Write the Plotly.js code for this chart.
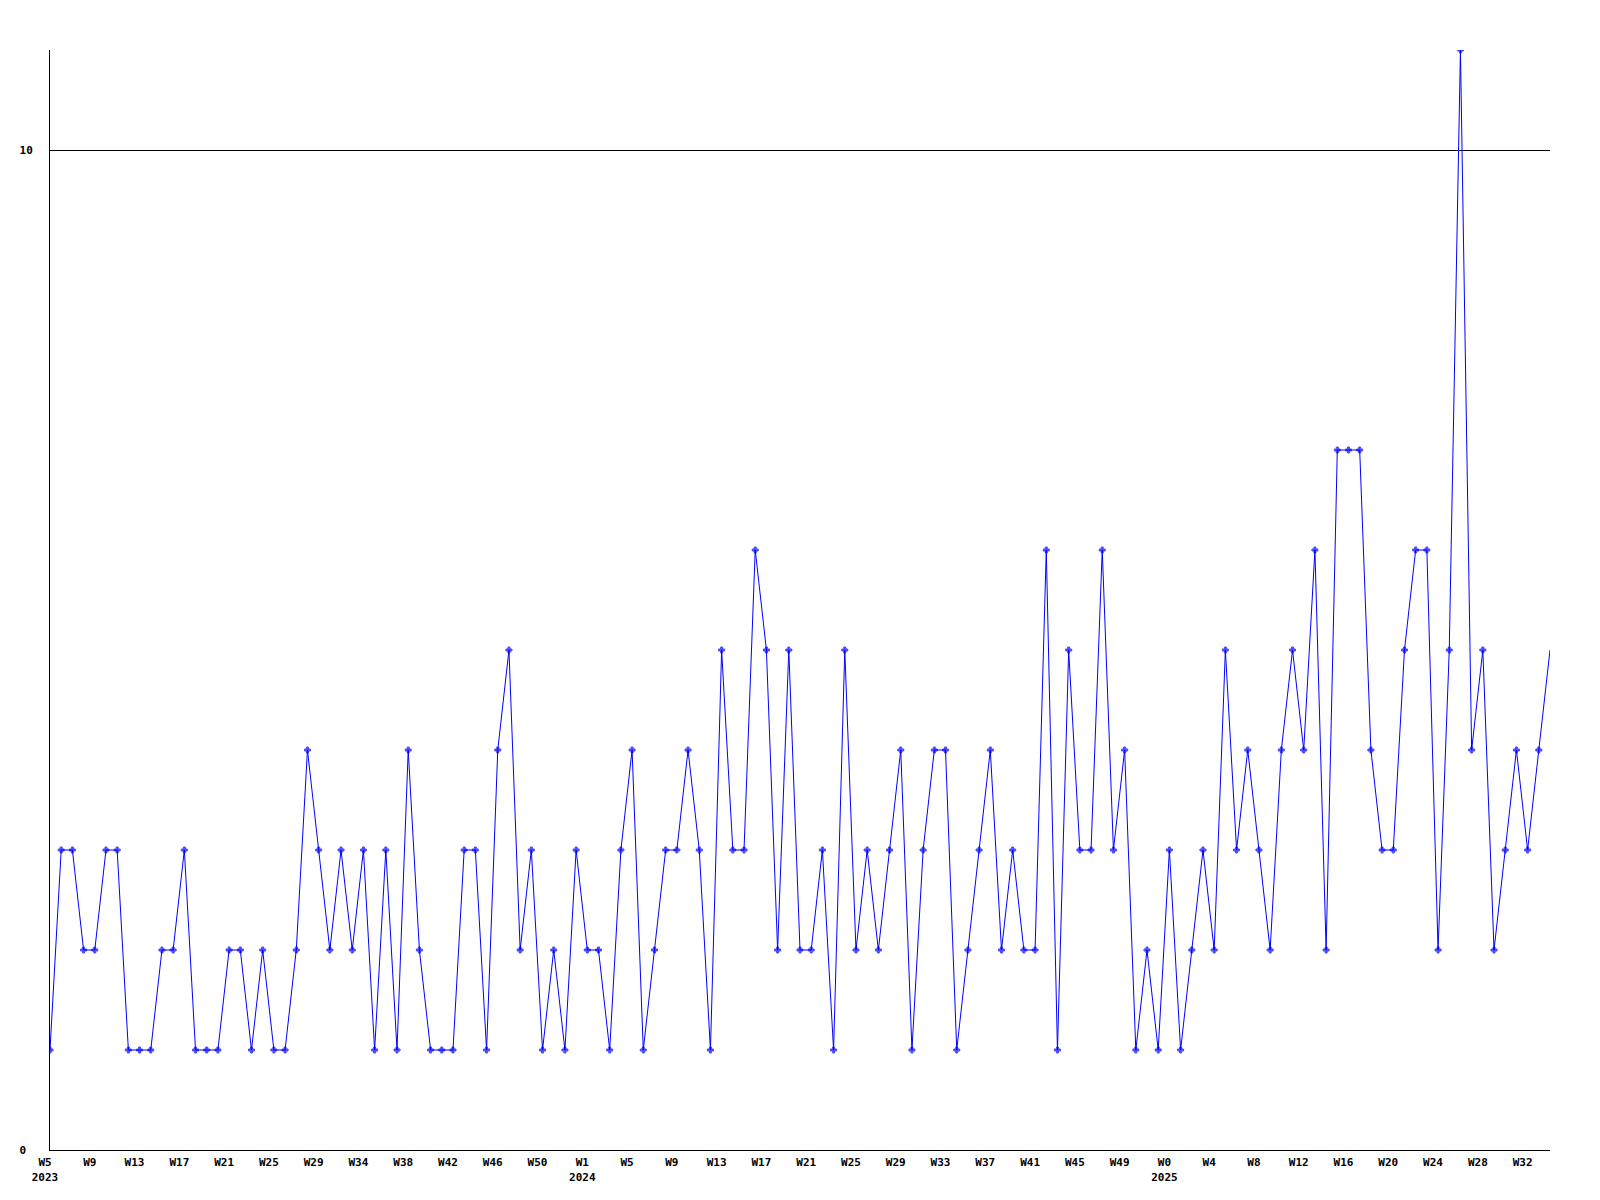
<!DOCTYPE html>
<html>
<head>
<meta charset="utf-8">
<script src="https://cdn.plot.ly/plotly-3.0.1.min.js"></script>
<style>html,body{margin:0;padding:0;background:#fff;}#chart{width:1600px;height:1200px;}</style>
</head>
<body>
<div id="chart"></div>
<script>
// Weekly counts, W5 2023 .. W34 2025 (135 weeks)
const values = [
  1,3,3,2,2,3,3,1,1,1,
  2,2,3,1,1,1,2,2,1,2,
  1,1,2,4,3,2,3,2,3,1,
  3,1,4,2,1,1,1,3,3,1,
  4,5,2,3,1,2,1,3,2,2,
  1,3,4,1,2,3,3,4,3,1,
  5,3,3,6,5,2,5,2,2,3,
  1,5,2,3,2,3,4,1,3,4,
  4,1,2,3,4,2,3,2,2,6,
  1,5,3,3,6,3,4,1,2,1,
  3,1,2,3,2,5,3,4,3,2,
  4,5,4,6,2,7,7,7,4,3,
  3,5,6,6,2,5,11,4,5,2,
  3,4,3,4,5
];
// Tick labels, one every 4 weeks
const tickLabels = [
  "W5<br>2023","W9","W13","W17","W21","W25","W29","W34","W38","W42","W46","W50",
  "W1<br>2024","W5","W9","W13","W17","W21","W25","W29","W33","W37","W41","W45","W49",
  "W0<br>2025","W4","W8","W12","W16","W20","W24","W28","W32"
];
const yTickVals = [0, 10];
const yTickText = ["0\u00a0", "10"];

const xIdx = values.map((v, i) => i);
const tickVals = tickLabels.map((t, i) => i * 4);
const markerSizes = values.map((v, i) => i === values.length - 1 ? 0 : 5);

const fontFam = '"DejaVu Sans Mono", "Liberation Mono", monospace';

const trace = {
  x: xIdx,
  y: values,
  type: 'scatter',
  mode: 'lines+markers',
  line: {color: '#0000ff', width: 1},
  marker: {symbol: 'cross', size: markerSizes, color: '#0000ff', line: {color: '#0000ff', width: 1}},
  hoverinfo: 'skip'
};

const layout = {
  width: 1600,
  height: 1200,
  margin: {l: 50, r: 50, t: 50, b: 50, pad: 0},
  paper_bgcolor: '#ffffff',
  plot_bgcolor: '#ffffff',
  showlegend: false,
  xaxis: {
    range: [0, values.length - 1],
    tickmode: 'array',
    tickvals: tickVals,
    ticktext: tickLabels,
    showgrid: false,
    zeroline: false,
    showline: true,
    linecolor: '#000000',
    linewidth: 1,
    ticks: '',
    ticklabelshift: -5,
    ticklabelstandoff: 2,
    tickangle: 0,
    tickfont: {family: fontFam, size: 11, color: '#000000', weight: 'bold'},
    fixedrange: true
  },
  yaxis: {
    range: [0, 11],
    tickmode: 'array',
    tickvals: yTickVals,
    ticktext: yTickText,
    showgrid: true,
    gridcolor: '#000000',
    gridwidth: 1,
    zeroline: false,
    showline: true,
    linecolor: '#000000',
    linewidth: 1,
    ticks: '',
    ticklabelstandoff: 14,
    tickfont: {family: fontFam, size: 11, color: '#000000', weight: 'bold'},
    fixedrange: true
  }
};

Plotly.newPlot('chart', [trace], layout, {displayModeBar: false, staticPlot: true});
</script>
</body>
</html>
